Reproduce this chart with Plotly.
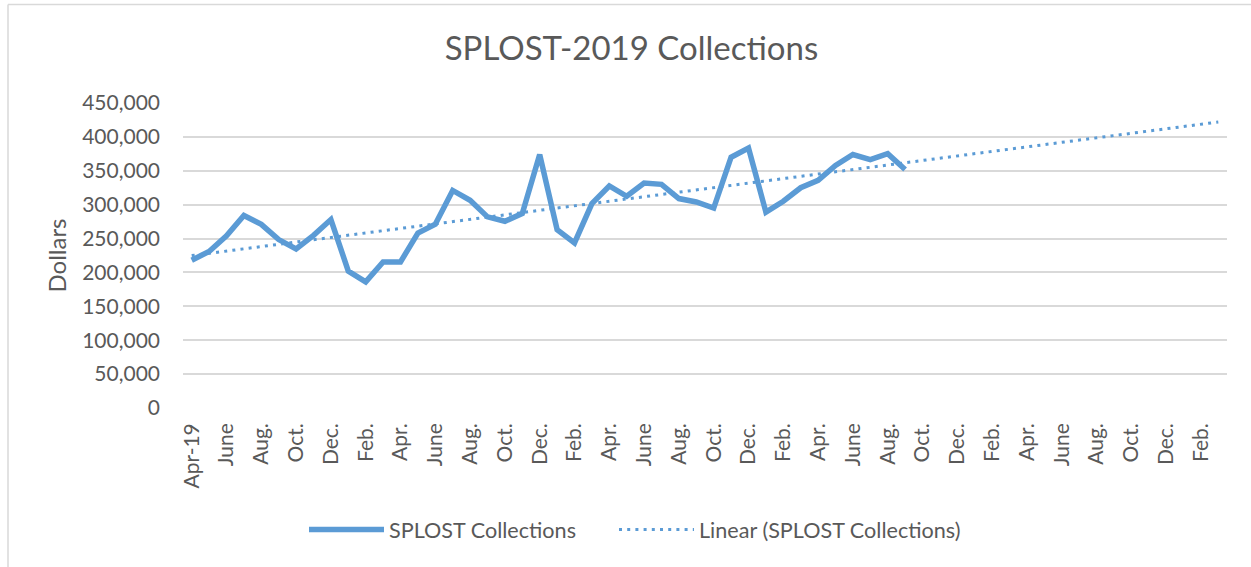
import numpy as np
import plotly.graph_objects as go

# Monthly categories, Apr-2019 .. Mar-2024 (collections reported through Sep-2022)
categories = [
    "Apr-19", "May-19", "Jun-19", "Jul-19", "Aug-19", "Sep-19", "Oct-19", "Nov-19", "Dec-19",
    "Jan-20", "Feb-20", "Mar-20", "Apr-20", "May-20", "Jun-20", "Jul-20", "Aug-20", "Sep-20",
    "Oct-20", "Nov-20", "Dec-20", "Jan-21", "Feb-21", "Mar-21", "Apr-21", "May-21", "Jun-21",
    "Jul-21", "Aug-21", "Sep-21", "Oct-21", "Nov-21", "Dec-21", "Jan-22", "Feb-22", "Mar-22",
    "Apr-22", "May-22", "Jun-22", "Jul-22", "Aug-22", "Sep-22", "Oct-22", "Nov-22", "Dec-22",
    "Jan-23", "Feb-23", "Mar-23", "Apr-23", "May-23", "Jun-23", "Jul-23", "Aug-23", "Sep-23",
    "Oct-23", "Nov-23", "Dec-23", "Jan-24", "Feb-24", "Mar-24",
]

# Displayed tick labels (every second month)
tick_labels = [
    "Apr-19", "June", "Aug.", "Oct.", "Dec.", "Feb.", "Apr.", "June", "Aug.", "Oct.",
    "Dec.", "Feb.", "Apr.", "June", "Aug.", "Oct.", "Dec.", "Feb.", "Apr.", "June",
    "Aug.", "Oct.", "Dec.", "Feb.", "Apr.", "June", "Aug.", "Oct.", "Dec.", "Feb.",
]

# SPLOST collections in dollars (Apr-19 .. Sep-22)
collections = [
    218000, 231000, 254000, 284000, 271000, 248500, 234600, 254800, 278000,
    202000, 186000, 215500, 215500, 258000, 271000, 321000, 306500, 282000,
    275500, 287000, 374000, 263000, 243500, 301600, 327600, 312400, 332000,
    330000, 309000, 304000, 295000, 370000, 383600, 289000, 305000, 325000,
    336000, 358000, 374000, 366500, 375300, 352000,
]

y_ticks = [0, 50000, 100000, 150000, 200000, 250000, 300000, 350000, 400000, 450000]

# Linear trendline (least squares, as in the spreadsheet) extended over all categories
idx = np.arange(len(collections))
slope, intercept = np.polyfit(idx, collections, 1)
trend = intercept + slope * np.arange(len(categories))

BLUE = "#5B9BD5"
TEXT = "#595959"
GRID = "#D9D9D9"
FONT = "Lato"

fig = go.Figure()
fig.add_trace(go.Scatter(
    x=categories[:len(collections)], y=collections, mode="lines",
    name="SPLOST Collections",
    line=dict(color=BLUE, width=5.5),
    legend="legend",
))
fig.add_trace(go.Scatter(
    x=categories, y=trend, mode="lines",
    name="Linear (SPLOST Collections)",
    line=dict(color=BLUE, width=3, dash="3px,5.2px"),
    legend="legend2",
))

W, H = 1251, 567
L, R, T, B = 183, 24, 103, 159
pw, ph = W - L - R, H - T - B

def px_x(x):
    return (x - L) / pw

def px_y(y):
    return (H - B - y) / ph

legend_common = dict(
    orientation="h",
    xref="container", yref="container",
    xanchor="left",
    y=1 - 530 / H, yanchor="middle",
    font=dict(family=FONT, size=21.6, color=TEXT),
    bgcolor="rgba(0,0,0,0)",
    itemwidth=75,
)

fig.update_layout(
    width=W, height=H,
    margin=dict(l=L, r=R, t=T, b=B, pad=0),
    paper_bgcolor="white", plot_bgcolor="white",
    font=dict(family=FONT, color=TEXT, size=21),
    title=dict(
        text="SPLOST-2019 Collections",
        font=dict(family=FONT, size=33, color=TEXT),
        x=631.5 / W, xanchor="center", xref="container",
        y=1 - 48 / H, yanchor="middle", yref="container",
    ),
    xaxis=dict(
        type="category",
        categoryorder="array", categoryarray=categories,
        range=[-0.5, len(categories) - 0.5],
        tickmode="array",
        tickvals=categories[::2],
        ticktext=tick_labels,
        tickangle=-90,
        showgrid=False,
        showline=False,
        zeroline=False,
        ticks="",
        ticklabelstandoff=10,
        tickfont=dict(family=FONT, size=21, color=TEXT),
    ),
    yaxis=dict(
        range=[0, 450000],
        tickmode="array", tickvals=y_ticks,
        tickformat=",",
        showgrid=True, gridcolor=GRID, gridwidth=1.5,
        zeroline=False, showline=False, ticks="",
        ticklabelstandoff=22,
        tickfont=dict(family=FONT, size=21, color=TEXT),
        title=dict(text="Dollars", font=dict(family=FONT, size=24, color=TEXT), standoff=8),
    ),
    legend=dict(legend_common, x=304 / W),
    legend2=dict(legend_common, x=614 / W),
    showlegend=True,
    shapes=[
        dict(type="line", xref="paper", yref="paper",
             x0=px_x(8), x1=px_x(8), y0=px_y(H + 20), y1=px_y(4.5),
             line=dict(color=GRID, width=1.5)),
        dict(type="line", xref="paper", yref="paper",
             x0=px_x(8), x1=px_x(W + 20), y0=px_y(4.5), y1=px_y(4.5),
             line=dict(color=GRID, width=1.5)),
    ],
)

fig.write_html(
    "out.html",
    config={"displayModeBar": False},
    post_script="document.body.style.margin='0';document.body.style.overflow='hidden';",
)
